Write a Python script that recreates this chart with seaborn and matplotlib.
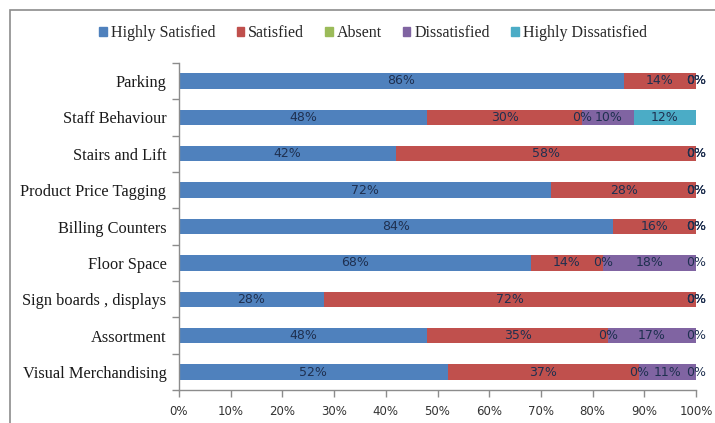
import numpy as np
import pandas as pd
import matplotlib
matplotlib.use("Agg")
import matplotlib.pyplot as plt
import seaborn as sns
from matplotlib.patches import Rectangle

categories = ["Parking", "Staff Behaviour", "Stairs and Lift", "Product Price Tagging",
              "Billing Counters", "Floor Space", "Sign boards , displays", "Assortment",
              "Visual Merchandising"]
series_names = ["Highly Satisfied", "Satisfied", "Absent", "Dissatisfied", "Highly Dissatisfied"]
highly_satisfied = [86, 48, 42, 72, 84, 68, 28, 48, 52]
satisfied = [14, 30, 58, 28, 16, 14, 72, 35, 37]
absent = [0, 0, 0, 0, 0, 0, 0, 0, 0]
dissatisfied = [0, 10, 0, 0, 0, 18, 0, 17, 11]
highly_dissatisfied = [0, 12, 0, 0, 0, 0, 0, 0, 0]
x_ticks = [0, 10, 20, 30, 40, 50, 60, 70, 80, 90, 100]
colors = ["#4F81BD", "#C0504D", "#9BBB59", "#8064A2", "#4BACC6"]

series = [highly_satisfied, satisfied, absent, dissatisfied, highly_dissatisfied]
vals = np.array(series, dtype=float)
cum = np.cumsum(vals, axis=0)

sns.set_theme(style="white")
plt.rcParams['font.family'] = ['DejaVu Sans']

fig = plt.figure(figsize=(7.15, 4.23), dpi=100)
ax = fig.add_axes([179/715, 1-390.2/423, (696-179)/715, (390.2-62.8)/423])

for i in range(len(series) - 1, -1, -1):
    df = pd.DataFrame({"cat": categories, "val": cum[i]})
    sns.barplot(data=df, x="val", y="cat", orient="h", color=colors[i],
                saturation=1, width=0.42, ax=ax,
                linewidth=0, edgecolor=colors[i])
if ax.get_legend() is not None:
    ax.get_legend().remove()

# data labels
for i in range(len(series)):
    for j in range(len(categories)):
        start = cum[i][j] - vals[i][j]
        center = start + vals[i][j] / 2
        ax.text(center, j, f"{int(vals[i][j])}%", ha="center", va="center",
                fontsize=9, color="#1F3050", family="DejaVu Sans")

ax.set_xlim(0, 100)
ax.set_ylim(len(categories) - 0.5, -0.5)
ax.set_xticks(x_ticks)
ax.set_xticklabels([f"{t}%" for t in x_ticks], fontsize=8.5, color="#333333")
ax.set_yticks(range(len(categories)))
ax.set_yticklabels(categories, fontsize=11.8, family="Liberation Serif", color="#1a1a1a")
ax.set_xlabel("")
ax.set_ylabel("")
for s in ["top", "right"]:
    ax.spines[s].set_visible(False)
for s in ["left", "bottom"]:
    ax.spines[s].set_color("#8c8c8c")
    ax.spines[s].set_linewidth(1)
ax.tick_params(axis="x", length=5, width=1, color="#8c8c8c", direction="out", bottom=True, pad=6)
ax.tick_params(axis="y", length=0, pad=9)
# category boundary ticks on y axis
ax.set_yticks(np.arange(-0.5, len(categories), 1), minor=True)
ax.tick_params(axis="y", which="minor", length=5, width=1, color="#8c8c8c", left=True)

# legend
handles = [plt.Rectangle((0, 0), 1, 1, color=c) for c in colors]
leg = fig.legend(handles, series_names, loc="center", bbox_to_anchor=(373/715, 1 - 33/423),
                 ncol=5, frameon=False, prop={"family": "Liberation Serif", "size": 11.5},
                 handlelength=0.45, handleheight=0.45, handletextpad=0.25, columnspacing=1.35)

# chart frame
fig.patches.append(Rectangle((10/715, -0.1), 1.2, 1 - 10/423 + 0.1, transform=fig.transFigure,
                             fill=False, edgecolor="#8c8c8c", linewidth=1.2))

fig.savefig("out.png", dpi=100)
